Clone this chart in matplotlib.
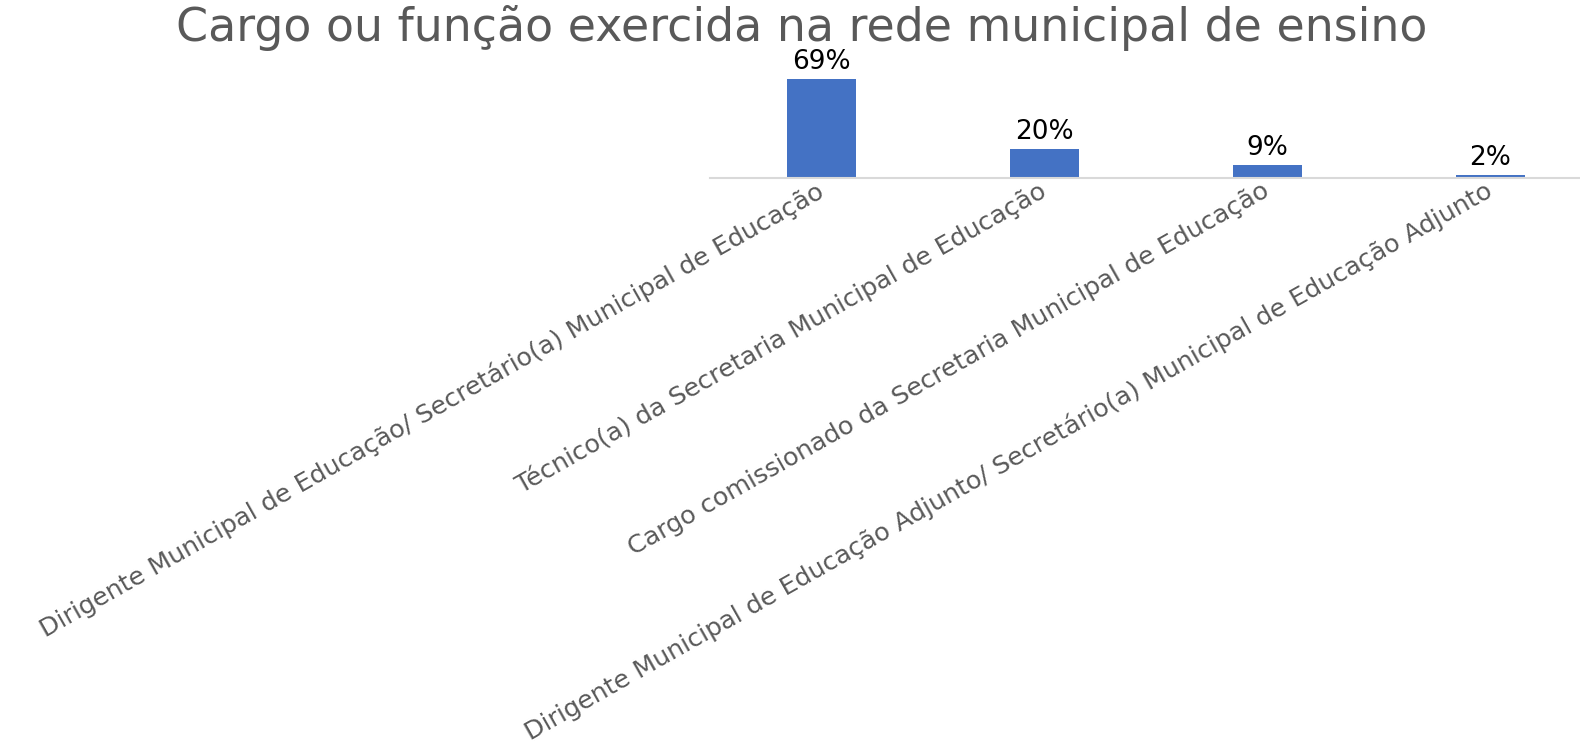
import matplotlib.pyplot as plt
import numpy as np

categorias = [
    "Dirigente Municipal de Educação/ Secretário(a) Municipal de Educação",
    "Técnico(a) da Secretaria Municipal de Educação",
    "Cargo comissionado da Secretaria Municipal de Educação",
    "Dirigente Municipal de Educação Adjunto/ Secretário(a) Municipal de Educação Adjunto",
]
percentuais = [69, 20, 9, 2]
titulo = "Cargo ou função exercida na rede municipal de ensino"

plt.rcParams['font.family'] = ['DejaVu Sans']

fig = plt.figure(figsize=(15.8, 7.49), dpi=100)
ax = fig.add_axes([710 / 1580, 1 - 178 / 749, 892 / 1580, 118 / 749])

x = np.arange(len(categorias))
bars = ax.bar(x, percentuais, width=0.31, color='#4472C4', zorder=2)

for b, v in zip(bars, percentuais):
    ax.annotate(f"{v}%", (b.get_x() + b.get_width() / 2, b.get_height()),
                xytext=(0, 3), textcoords='offset points',
                ha='center', va='bottom', fontsize=19, color='black')

ax.set_xlim(-0.5, len(categorias) - 0.5)
ax.set_ylim(0, 82)
ax.set_xticks(x)
ax.set_xticklabels(categorias, rotation=29.5, ha='right', va='center',
                   rotation_mode='anchor', fontsize=18.3, color='#595959')
ax.tick_params(axis='x', length=0, pad=8)
ax.set_yticks([])
for s in ['top', 'right', 'left']:
    ax.spines[s].set_visible(False)
ax.spines['bottom'].set_color('#D9D9D9')
ax.spines['bottom'].set_linewidth(1.5)

fig.text(802 / 1580, 1 - 28 / 749, titulo, ha='center', va='center',
         fontsize=33, color='#595959')

fig.savefig('out.png', dpi=100)
